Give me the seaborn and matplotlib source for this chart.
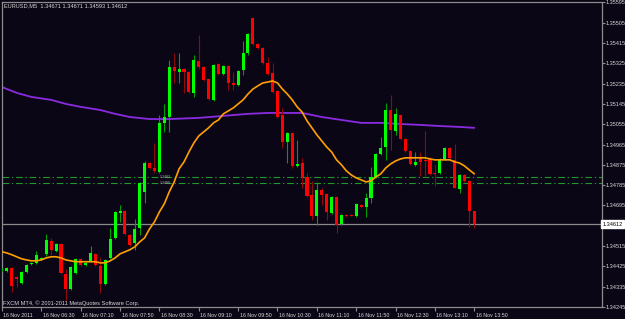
import numpy as np
import pandas as pd
import matplotlib
matplotlib.use("Agg")
import matplotlib.pyplot as plt
import matplotlib.transforms as mtransforms
import seaborn as sns

# ---------------- data (EURUSD M5, 16 Nov 2011 05:50 .. 13:50) ----------------
open_ = [1.34409, 1.34405, 1.34418, 1.34378, 1.34352, 1.34400, 1.34436, 1.34440, 1.34458, 1.34480,
         1.34538, 1.34493, 1.34524, 1.34391, 1.34325, 1.34396, 1.34458, 1.34431, 1.34449, 1.34480,
         1.34427, 1.34347, 1.34462, 1.34551, 1.34662, 1.34671, 1.34564, 1.34529, 1.34595, 1.34755,
         1.34883, 1.34861, 1.34844, 1.35061, 1.35087, 1.35309, 1.35287, 1.35300, 1.35287, 1.35194,
         1.35336, 1.35309, 1.35256, 1.35163, 1.35322, 1.35278, 1.35313, 1.35238, 1.35229, 1.35296,
         1.35371, 1.35526, 1.35411, 1.35393, 1.35327, 1.35282, 1.35203, 1.35096, 1.34977, 1.35016,
         1.34870, 1.34883, 1.34821, 1.34742, 1.34648, 1.34764, 1.34746, 1.34662, 1.34733, 1.34613,
         1.34653, 1.34653, 1.34648, 1.34697, 1.34688, 1.34728, 1.34821, 1.34923, 1.34954, 1.35118,
         1.35025, 1.35096, 1.34990, 1.34937, 1.34875, 1.34906, 1.34897, 1.34901, 1.34839, 1.34839,
         1.34901, 1.34950, 1.34897, 1.34768, 1.34830, 1.34804, 1.34671]
high = [1.34418, 1.34422, 1.34422, 1.34383, 1.34405, 1.34436, 1.34445, 1.34493, 1.34467, 1.34569,
        1.34551, 1.34529, 1.34529, 1.34414, 1.34427, 1.34462, 1.34462, 1.34445, 1.34515, 1.34484,
        1.34467, 1.34458, 1.34595, 1.34671, 1.34697, 1.34675, 1.34569, 1.34635, 1.34799, 1.34892,
        1.34888, 1.34972, 1.35096, 1.35145, 1.35340, 1.35371, 1.35371, 1.35305, 1.35291, 1.35362,
        1.35451, 1.35313, 1.35260, 1.35322, 1.35327, 1.35318, 1.35318, 1.35287, 1.35296, 1.35424,
        1.35460, 1.35531, 1.35415, 1.35398, 1.35353, 1.35327, 1.35207, 1.35127, 1.35021, 1.35021,
        1.34985, 1.34906, 1.34839, 1.34804, 1.34799, 1.34773, 1.34750, 1.34737, 1.34737, 1.34657,
        1.34657, 1.34657, 1.34706, 1.34702, 1.34750, 1.34866, 1.34928, 1.34999, 1.35149, 1.35185,
        1.35127, 1.35101, 1.34994, 1.34941, 1.34932, 1.34932, 1.35025, 1.34910, 1.34875, 1.34906,
        1.34954, 1.34954, 1.34968, 1.34835, 1.34835, 1.34808, 1.34671]
low = [1.34405, 1.34400, 1.34312, 1.34334, 1.34347, 1.34396, 1.34431, 1.34436, 1.34453, 1.34471,
       1.34476, 1.34489, 1.34391, 1.34272, 1.34320, 1.34391, 1.34427, 1.34427, 1.34445, 1.34427,
       1.34307, 1.34343, 1.34458, 1.34546, 1.34622, 1.34564, 1.34515, 1.34498, 1.34564, 1.34706,
       1.34857, 1.34839, 1.34839, 1.35021, 1.35021, 1.35238, 1.35238, 1.35194, 1.35194, 1.35176,
       1.35300, 1.35247, 1.35163, 1.35158, 1.35274, 1.35274, 1.35207, 1.35207, 1.35225, 1.35274,
       1.35362, 1.35406, 1.35389, 1.35322, 1.35274, 1.35194, 1.35083, 1.34950, 1.34883, 1.34861,
       1.34866, 1.34773, 1.34733, 1.34631, 1.34609, 1.34697, 1.34631, 1.34657, 1.34573, 1.34609,
       1.34644, 1.34648, 1.34644, 1.34684, 1.34644, 1.34706, 1.34817, 1.34919, 1.34897, 1.34941,
       1.35008, 1.34985, 1.34932, 1.34875, 1.34870, 1.34826, 1.34821, 1.34830, 1.34781, 1.34835,
       1.34897, 1.34901, 1.34773, 1.34750, 1.34799, 1.34600, 1.34593]
close = [1.34414, 1.34418, 1.34338, 1.34369, 1.34400, 1.34431, 1.34440, 1.34476, 1.34462, 1.34542,
         1.34498, 1.34524, 1.34396, 1.34325, 1.34422, 1.34458, 1.34431, 1.34440, 1.34484, 1.34431,
         1.34347, 1.34453, 1.34546, 1.34666, 1.34671, 1.34569, 1.34520, 1.34591, 1.34795, 1.34883,
         1.34861, 1.34848, 1.35061, 1.35087, 1.35309, 1.35291, 1.35300, 1.35287, 1.35198, 1.35340,
         1.35309, 1.35251, 1.35167, 1.35318, 1.35278, 1.35313, 1.35238, 1.35229, 1.35291, 1.35371,
         1.35455, 1.35411, 1.35393, 1.35327, 1.35278, 1.35198, 1.35087, 1.34977, 1.35016, 1.34870,
         1.34879, 1.34821, 1.34737, 1.34648, 1.34764, 1.34742, 1.34666, 1.34733, 1.34609, 1.34653,
         1.34648, 1.34648, 1.34702, 1.34688, 1.34728, 1.34821, 1.34923, 1.34950, 1.35118, 1.35030,
         1.35101, 1.34990, 1.34937, 1.34879, 1.34888, 1.34888, 1.34892, 1.34835, 1.34835, 1.34901,
         1.34950, 1.34906, 1.34773, 1.34830, 1.34804, 1.34671, 1.34612]

ma_fast = [1.34489, 1.34484, 1.34476, 1.34467, 1.34458, 1.34453, 1.34449, 1.34449, 1.34453, 1.34462,
           1.34467, 1.34467, 1.34462, 1.34453, 1.34449, 1.34445, 1.34445, 1.34445, 1.34445, 1.34445,
           1.34440, 1.34440, 1.34449, 1.34462, 1.34480, 1.34489, 1.34498, 1.34511, 1.34533, 1.34551,
           1.34591, 1.34622, 1.34666, 1.34702, 1.34755, 1.34799, 1.34857, 1.34888, 1.34932, 1.34972,
           1.35003, 1.35021, 1.35039, 1.35061, 1.35074, 1.35101, 1.35114, 1.35127, 1.35145, 1.35163,
           1.35189, 1.35211, 1.35225, 1.35238, 1.35242, 1.35247, 1.35238, 1.35211, 1.35189, 1.35163,
           1.35132, 1.35109, 1.35070, 1.35039, 1.35008, 1.34981, 1.34954, 1.34932, 1.34897, 1.34875,
           1.34848, 1.34830, 1.34817, 1.34808, 1.34799, 1.34804, 1.34821, 1.34835, 1.34861, 1.34879,
           1.34892, 1.34901, 1.34906, 1.34906, 1.34906, 1.34906, 1.34906, 1.34901, 1.34897, 1.34897,
           1.34897, 1.34897, 1.34888, 1.34883, 1.34870, 1.34852, 1.34835]

ma_slow_bars = [0, 3, 6, 10, 13, 16, 20, 23, 26, 30, 34, 40, 45, 50, 54, 59, 61, 65, 69, 73,
                77, 81, 85, 89, 93, 96]
ma_slow = [1.35220, 1.35194, 1.35176, 1.35163, 1.35145, 1.35132, 1.35118, 1.35101, 1.35087, 1.35078,
           1.35078, 1.35083, 1.35092, 1.35101, 1.35105, 1.35105, 1.35105, 1.35087, 1.35074, 1.35061,
           1.35061, 1.35056, 1.35052, 1.35047, 1.35043, 1.35039]

time_tick_bars = [0, 8, 16, 24, 32, 40, 48, 56, 64, 72, 80, 88, 96]
time_tick_labels = ["16 Nov 2011", "16 Nov 06:30", "16 Nov 07:10", "16 Nov 07:50", "16 Nov 08:30",
                    "16 Nov 09:10", "16 Nov 09:50", "16 Nov 10:30", "16 Nov 11:10", "16 Nov 11:50",
                    "16 Nov 12:30", "16 Nov 13:10", "16 Nov 13:50"]
price_ticks = [1.35595, 1.35505, 1.35415, 1.35325, 1.35235, 1.35145, 1.35055, 1.34965,
               1.34875, 1.34785, 1.34695, 1.34515, 1.34425, 1.34335, 1.34245]
level_lines = [1.34820, 1.34796]
level_labels = ["1.3482", "1.3480"]
bid = 1.34612
header = "EURUSD,M5  1.34671 1.34671 1.34593 1.34612"
footer = "FXCM MT4, \u00a9 2001-2011 MetaQuotes Software Corp."

# ---------------- style ----------------
BG = "#0b0616"
FRAME = "#8c8c8c"
TXT = "#d8d8d8"
sns.set_theme(style="dark", rc={"axes.facecolor": BG, "figure.facecolor": BG})
plt.rcParams["font.family"] = ["Liberation Sans", "DejaVu Sans"]
FS_X = 3.8
FS_Y = 4.0
FS_T = 4.1

df = pd.DataFrame({"open": open_, "high": high, "low": low, "close": close})
df["bar"] = np.arange(len(df))
df["up"] = df["close"] >= df["open"]
min_body = 0.00004
df["body_h"] = (df["close"] - df["open"]).abs().clip(lower=min_body)
df["body_b"] = df[["open", "close"]].min(axis=1)

W, H = 625, 319
fig = plt.figure(figsize=(W / 100, H / 100), dpi=100, facecolor=BG)
left_px, right_px, top_px, bot_px = 1.7, 601.5, 1.7, 307.3
ax = fig.add_axes([left_px / W, 1 - bot_px / H, (right_px - left_px) / W, (bot_px - top_px) / H])
ax.set_facecolor(BG)

# horizontal levels
ax.axhline(bid, color="#8a8a8a", lw=0.9, zorder=1)
for lv in level_lines:
    ax.axhline(lv, color="#1f9a2a", lw=0.8, linestyle=(0, (6, 2.5, 1.2, 2.5)), zorder=1)

# moving averages
sns.lineplot(x=ma_slow_bars, y=ma_slow, ax=ax, color="#8a2be2", lw=1.3, zorder=2)
sns.lineplot(x=df["bar"], y=ma_fast, ax=ax, color="#ffa000", lw=1.2, zorder=4)

# candles
up = df[df["up"]]
dn = df[~df["up"]]
ax.vlines(up["bar"], up["low"], up["high"], color="#00a000", lw=0.8, zorder=3)
ax.vlines(dn["bar"], dn["low"], dn["high"], color="#8b0a0a", lw=0.8, zorder=3)
ax.bar(up["bar"], up["body_h"], bottom=up["body_b"], width=0.62, color="#00ff00", linewidth=0, zorder=3)
ax.bar(dn["bar"], dn["body_h"], bottom=dn["body_b"], width=0.62, color="#ff0000", linewidth=0, zorder=3)

# axes limits / ticks
ax.set_xlim(-0.05, 121.85)
ax.set_ylim(1.342429, 1.355985)
ax.set_xlabel("")
ax.set_ylabel("")
ax.grid(False)
for s in ax.spines.values():
    s.set_visible(True)
    s.set_color(FRAME)
    s.set_linewidth(0.9)

ax.yaxis.tick_right()
ax.set_yticks(price_ticks)
ax.set_yticklabels([f"{p:.5f}" for p in price_ticks])
ax.tick_params(axis="y", which="both", right=True, left=False, length=2, width=0.8,
               color=FRAME, labelcolor=TXT, labelsize=FS_Y, pad=1)
ax.set_xticks(time_tick_bars)
ax.set_xticklabels(time_tick_labels)
ax.tick_params(axis="x", which="both", bottom=True, length=3, width=0.8,
               color=FRAME, labelcolor=TXT, labelsize=FS_X, pad=1.2)
shift = mtransforms.ScaledTranslation(1.5 / 100, 0, fig.dpi_scale_trans)
for lab in ax.get_xticklabels():
    lab.set_horizontalalignment("left")
    lab.set_transform(lab.get_transform() + shift)

# bid label box on the price scale
trans = mtransforms.blended_transform_factory(ax.transAxes, ax.transData)
ax.text(1.0015, bid, f"{bid:.5f}", transform=trans, ha="left", va="center", fontsize=FS_Y,
        color="black", clip_on=False,
        bbox=dict(boxstyle="square,pad=0.2", facecolor="white", edgecolor="white"))

# small labels of the level lines
for lv, lb in zip(level_lines, level_labels):
    ax.text(32, lv, lb, fontsize=2.6, color="#b0b0b0", va="center", ha="left", zorder=5)

# header and footer
fig.text(3.5 / W, 1 - 6.2 / H, header, fontsize=FS_T, color=TXT, va="center", ha="left")
fig.text(3.0 / W, 1 - 303.5 / H, footer, fontsize=FS_T, color=TXT, va="center", ha="left")

fig.savefig("out.png", dpi=100, facecolor=BG)
